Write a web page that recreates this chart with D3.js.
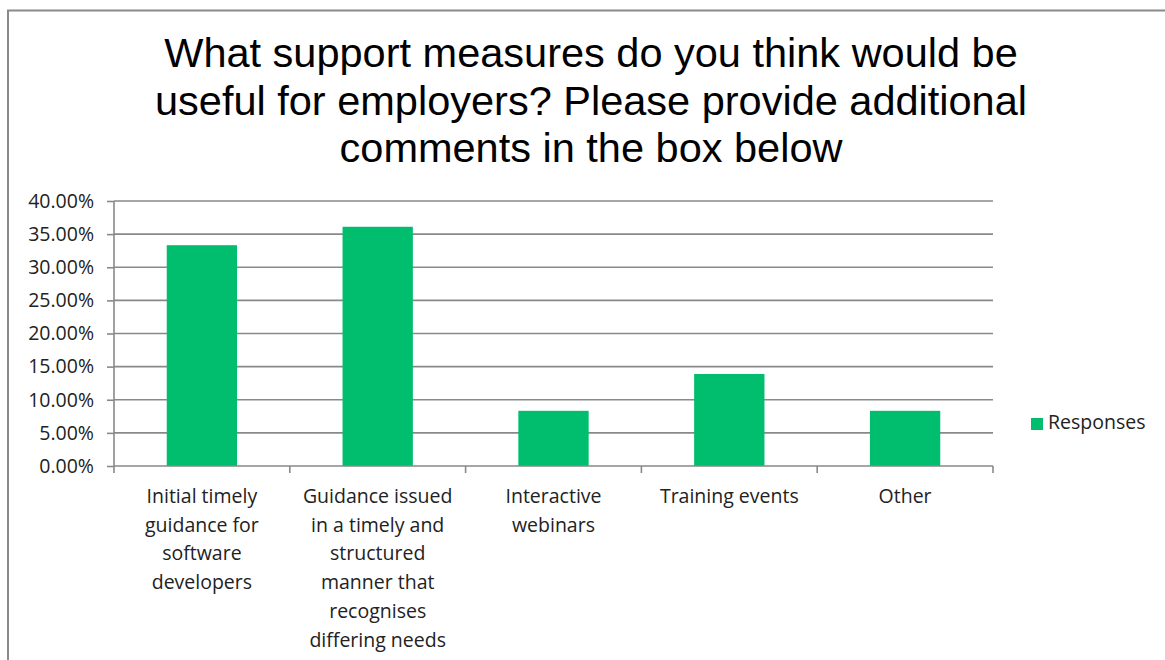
<!DOCTYPE html>
<html>
<head>
<meta charset="utf-8">
<script src="https://cdn.jsdelivr.net/npm/d3@7"></script>
<style>
  html, body { margin: 0; padding: 0; background: #fff; }
  svg { display: block; }
</style>
</head>
<body>
<svg id="chart" width="1165" height="660"></svg>
<script>
// Survey results: share of responses per support measure
const categories = [
  ["Initial timely", "guidance for", "software", "developers"],
  ["Guidance issued", "in a timely and", "structured", "manner that", "recognises", "differing needs"],
  ["Interactive", "webinars"],
  ["Training events"],
  ["Other"]
];
const responses = [0.3333, 0.3611, 0.0833, 0.1389, 0.0833];
const yTicks = [0, 0.05, 0.10, 0.15, 0.20, 0.25, 0.30, 0.35, 0.40];
const titleLines = [
  "What support measures do you think would be",
  "useful for employers? Please provide additional",
  "comments in the box below"
];
const seriesName = "Responses";

const svg = d3.select("#chart");
const barColor = "#00BE6E";
const gridColor = "#898989";
const labelFont = "'Open Sans', Lato, sans-serif";
const labelSize = 19.5;

// chart frame
svg.append("rect")
  .attr("x", 8).attr("y", 10.5)
  .attr("width", 1200).attr("height", 700)
  .attr("fill", "#fff")
  .attr("stroke", "#8a8a8a")
  .attr("stroke-width", 2);

// title
svg.append("g").selectAll("text")
  .data(titleLines)
  .join("text")
  .attr("x", 591)
  .attr("y", (d, i) => 67 + i * 47.5)
  .attr("text-anchor", "middle")
  .attr("font-family", "'Liberation Sans', Arial, sans-serif")
  .attr("font-size", 41.5)
  .attr("fill", "#000")
  .text(d => d);

const plotLeft = 114, plotRight = 993, plotTop = 201, plotBottom = 466;
const keys = categories.map((c, i) => i);

const x = d3.scaleBand()
  .domain(keys)
  .range([plotLeft, plotRight])
  .paddingInner(0.6)
  .paddingOuter(0.3);

const y = d3.scaleLinear()
  .domain([0, 0.40])
  .range([plotBottom, plotTop]);

// horizontal gridlines
svg.append("g").selectAll("line")
  .data(yTicks.filter(t => t > 0))
  .join("line")
  .attr("x1", plotLeft).attr("x2", plotRight)
  .attr("y1", d => y(d)).attr("y2", d => y(d))
  .attr("stroke", gridColor)
  .attr("stroke-width", 1.6);

// bars
svg.append("g").selectAll("rect")
  .data(responses)
  .join("rect")
  .attr("x", (d, i) => x(i))
  .attr("y", d => y(d))
  .attr("width", x.bandwidth())
  .attr("height", d => y(0) - y(d))
  .attr("fill", barColor);

// y axis
const yAxis = svg.append("g")
  .attr("transform", `translate(${plotLeft},0)`)
  .call(d3.axisLeft(y).tickValues(yTicks).tickFormat(d3.format(".2%")).tickSize(7).tickPadding(13));
yAxis.selectAll("path, line").attr("stroke", gridColor).attr("stroke-width", 1.6);
yAxis.select(".domain").attr("d", `M0,${plotTop}V${plotBottom}`);
yAxis.selectAll("text")
  .attr("font-family", labelFont)
  .attr("font-size", labelSize)
  .attr("fill", "#222");

// x axis baseline with ticks at category boundaries
const step = x.step();
const boundaries = keys.map(k => x(k) + x.bandwidth() / 2 - step / 2).concat([plotRight]);
const xAxis = svg.append("g");
xAxis.append("line")
  .attr("x1", plotLeft).attr("x2", plotRight)
  .attr("y1", plotBottom).attr("y2", plotBottom)
  .attr("stroke", gridColor).attr("stroke-width", 1.6);
xAxis.selectAll("line.tick")
  .data(boundaries)
  .join("line")
  .attr("class", "tick")
  .attr("x1", d => d).attr("x2", d => d)
  .attr("y1", plotBottom).attr("y2", plotBottom + 7)
  .attr("stroke", gridColor).attr("stroke-width", 1.6);

// category labels
const catLabels = xAxis.selectAll("text.cat")
  .data(categories)
  .join("text")
  .attr("class", "cat")
  .attr("text-anchor", "middle")
  .attr("font-family", labelFont)
  .attr("font-size", labelSize)
  .attr("fill", "#222");
catLabels.selectAll("tspan")
  .data((d, i) => d.map(line => ({ line, i })))
  .join("tspan")
  .attr("x", d => x(d.i) + x.bandwidth() / 2)
  .attr("y", (d, j) => 503 + j * 28.7)
  .text(d => d.line);

// legend
const legend = svg.append("g").attr("transform", "translate(1031,418)");
legend.append("rect")
  .attr("width", 12).attr("height", 12)
  .attr("fill", barColor);
legend.append("text")
  .attr("x", 17).attr("y", 11)
  .attr("font-family", labelFont)
  .attr("font-size", labelSize)
  .attr("fill", "#222")
  .text(seriesName);
</script>
</body>
</html>
